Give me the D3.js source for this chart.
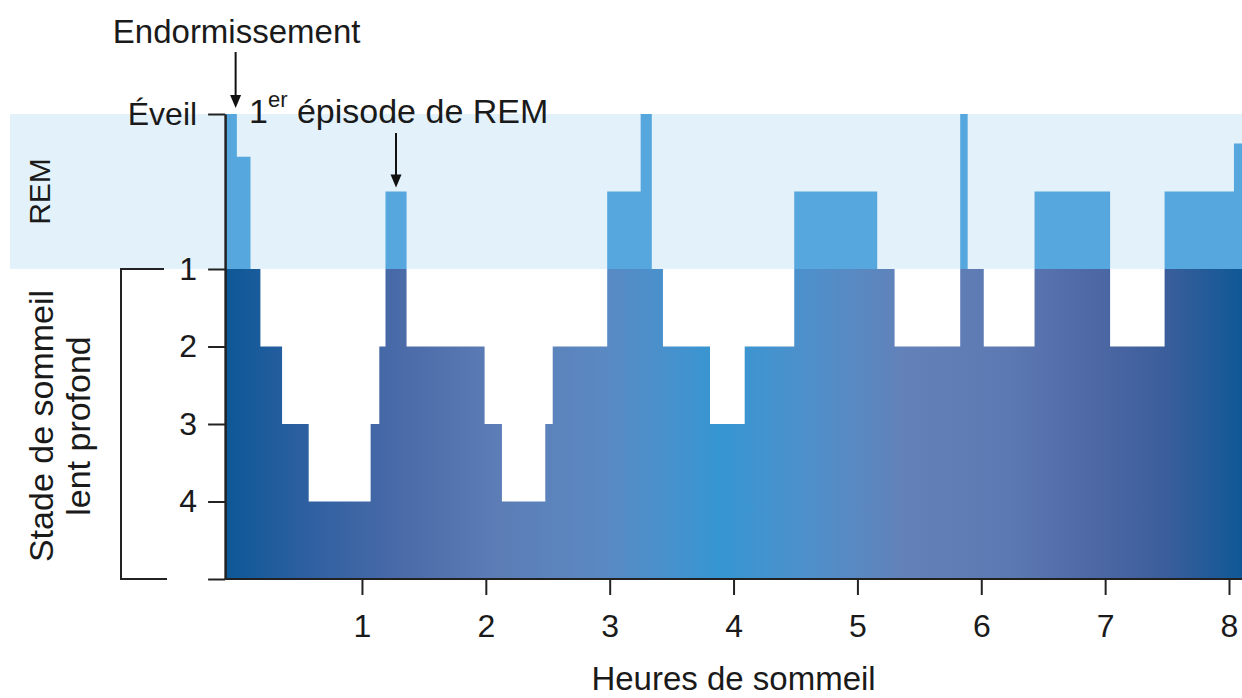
<!DOCTYPE html>
<html><head><meta charset="utf-8">
<script src="https://cdn.jsdelivr.net/npm/d3@7"></script>
<style>
body{margin:0;background:#fff}
svg{display:block}
text{font-family:"Liberation Sans", Arial, sans-serif; fill:#1a1a1a}
</style>
</head><body>
<svg id="c" width="1242" height="698"></svg>
<script>
// ---- data ----
const stageTicks = [6, 4, 3, 2, 1, 0];
const stageTickLabels = ["Éveil", "1", "2", "3", "4", ""];
const hourTicks = [1, 2, 3, 4, 5, 6, 7, 8];
// start of each segment (hours) and its level (6 = Éveil, 5 = REM, 4..1 = stades 1..4)
const segStart = [-0.105, -0.01, 0.10, 0.18, 0.355, 0.57, 1.07, 1.14, 1.19, 1.36,
                  1.99, 2.13, 2.48, 2.54, 2.98, 3.25, 3.34, 3.43, 3.81, 4.09,
                  4.49, 5.16, 5.30, 5.83, 5.89, 6.02, 6.43, 7.04, 7.48, 8.04];
const segLevel = [6, 5.45, 4, 3, 2, 1, 2, 3, 5, 3,
                  2, 1, 2, 3, 5, 6, 4, 3, 2, 3,
                  5, 4, 3, 6, 4, 3, 5, 3, 5, 5.62];
const segEnd = 8.11;
const sleepOnset = -0.02;
const firstRemStart = 1.19, firstRemEnd = 1.36;

// ---- layout ----
const svg = d3.select("#c");
const x = d3.scaleLinear().domain([0, 8]).range([238.1, 1229]);
const y = d3.scaleLinear().domain([0, 6]).range([579, 114]);
const W = 1242;

const gradStops = [
  [-0.105, "#0c5897"], [0.5, "#2c5fa0"], [1.3, "#4a6aa8"], [2.1, "#5c7db6"],
  [2.9, "#5b88c1"], [3.4, "#4a90cb"], [3.9, "#3596d2"], [4.6, "#4f90cb"],
  [5.4, "#6381b8"], [6.2, "#5d79b3"], [6.9, "#4e68a5"], [7.5, "#3a5e9b"],
  [8.11, "#0f5896"]
];

const defs = svg.append("defs");
const grad = defs.append("linearGradient").attr("id", "g")
  .attr("gradientUnits", "userSpaceOnUse")
  .attr("x1", x(segStart[0])).attr("x2", x(segEnd)).attr("y1", 0).attr("y2", 0);
const span = segEnd - segStart[0];
gradStops.forEach(([h, c]) => grad.append("stop")
  .attr("offset", (h - segStart[0]) / span).attr("stop-color", c));

defs.append("clipPath").attr("id", "low").append("rect")
  .attr("x", 0).attr("y", y(4)).attr("width", W).attr("height", y(0) - y(4));
defs.append("clipPath").attr("id", "high").append("rect")
  .attr("x", 0).attr("y", 0).attr("width", W).attr("height", y(4));

// REM band
svg.append("rect").attr("x", 10).attr("y", y(6)).attr("width", W - 10)
  .attr("height", y(4) - y(6)).attr("fill", "#e2f1fa");

const pts = segStart.map((t, i) => ({t, v: segLevel[i]}));
pts.push({t: segEnd, v: segLevel[segLevel.length - 1]});
const area = d3.area().x(d => x(d.t)).y0(y(0)).y1(d => y(d.v)).curve(d3.curveStepAfter);

svg.append("path").attr("d", area(pts)).attr("fill", "url(#g)").attr("clip-path", "url(#low)");
svg.append("path").attr("d", area(pts)).attr("fill", "#56a7dd").attr("clip-path", "url(#high)");

// axes
const yAxis = d3.axisLeft(y).tickValues(stageTicks)
  .tickFormat((d, i) => stageTickLabels[i]).tickSize(17).tickSizeOuter(0).tickPadding(11);
const gy = svg.append("g").attr("transform", `translate(${x(segStart[0])},0)`).call(yAxis);
gy.selectAll("text").style("font-size", "32px");

const xAxis = d3.axisBottom(x).tickValues(hourTicks).tickFormat(d3.format("d"))
  .tickSize(16).tickSizeOuter(0).tickPadding(19);
const gx = svg.append("g").attr("transform", `translate(0,${y(0)})`).call(xAxis);
gx.select(".domain").attr("d", `M${x(segStart[0])},0H${W}`);
gx.selectAll("text").style("font-size", "32px");

[gx, gy].forEach(g => {
  g.select(".domain").attr("stroke", "#222").attr("stroke-width", 2);
  g.selectAll(".tick line").attr("stroke", "#222").attr("stroke-width", 2);
  g.selectAll(".tick text").attr("fill", "#1a1a1a").style("font-family", '"Liberation Sans", Arial, sans-serif');
});
gy.select(".domain").attr("stroke-width", 2.5);

// bracket for slow-wave sleep
svg.append("path").attr("d", `M164,${y(4)}H121V${y(0)}H167`)
  .attr("fill", "none").attr("stroke", "#222").attr("stroke-width", 2);

// y labels
svg.append("text").attr("transform", `translate(50,${(y(5.5) + y(4.5)) / 2}) rotate(-90)`)
  .attr("text-anchor", "middle").style("font-size", "30px").text("REM");
const sl = svg.append("text").attr("transform", `translate(53,${(y(4) + y(0)) / 2 + 2}) rotate(-90)`)
  .attr("text-anchor", "middle").style("font-size", "34px");
sl.append("tspan").attr("x", 0).attr("dy", 0).text("Stade de sommeil");
sl.append("tspan").attr("x", 0).attr("dy", 37).text("lent profond");

// x label
svg.append("text").attr("x", (x(0) + x(8)) / 2).attr("y", 690)
  .attr("text-anchor", "middle").style("font-size", "33px").text("Heures de sommeil");

// annotations
function arrow(px, y1, y2) {
  svg.append("line").attr("x1", px).attr("x2", px).attr("y1", y1).attr("y2", y2 - 10)
    .attr("stroke", "#111").attr("stroke-width", 2);
  svg.append("path").attr("d", `M${px - 5.5},${y2 - 13}L${px + 5.5},${y2 - 13}L${px},${y2}Z`).attr("fill", "#111");
}
svg.append("text").attr("x", x(sleepOnset) + 1).attr("y", 43).attr("text-anchor", "middle")
  .style("font-size", "33px").text("Endormissement");
arrow(x(sleepOnset), 52, 108);

const ep = svg.append("text").attr("x", 249).attr("y", 123).style("font-size", "34px");
ep.append("tspan").text("1");
ep.append("tspan").attr("dy", -16).style("font-size", "22px").text("er");
ep.append("tspan").attr("dy", 16).text(" épisode de REM");
arrow(x((firstRemStart + firstRemEnd) / 2), 133, y(5) - 4);
</script>
</body></html>
